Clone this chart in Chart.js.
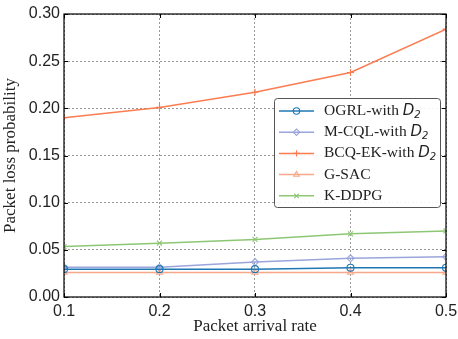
<!DOCTYPE html>
<html>
<head>
<meta charset="utf-8">
<script src="https://cdn.jsdelivr.net/npm/chart.js@4/dist/chart.umd.min.js"></script>
<style>
  html, body { margin: 0; padding: 0; background: #fff; }
  #wrap { width: 458px; height: 339px; }
</style>
</head>
<body>
<div id="wrap"><canvas id="chart" width="458" height="339"></canvas></div>
<script>
// Data
const arrivalRates = [0.1, 0.2, 0.3, 0.4, 0.5];
const ogrlLoss  = [0.0295, 0.0295, 0.0295, 0.031, 0.031];
const mcqlLoss  = [0.0316, 0.0316, 0.037, 0.041, 0.0426];
const bcqLoss   = [0.190, 0.201, 0.217, 0.238, 0.284];
const gsacLoss  = [0.026, 0.026, 0.026, 0.026, 0.026];
const kddpgLoss = [0.0535, 0.057, 0.061, 0.067, 0.070];
const seriesNames = ['OGRL-with D2', 'M-CQL-with D2', 'BCQ-EK-with D2', 'G-SAC', 'K-DDPG'];
const yTicks = [0, 0.05, 0.10, 0.15, 0.20, 0.25, 0.30];

function series(label, values, color, marker) {
    return {
        label: label,
        data: arrivalRates.map((x, i) => ({ x: x, y: values[i] })),
        borderColor: color,
        backgroundColor: 'rgba(255,255,255,0)',
        borderWidth: 1.5,
        pointStyle: marker,
        pointRadius: 3.5,
        pointBorderWidth: 1.1,
        pointBorderColor: color,
        pointBackgroundColor: 'rgba(255,255,255,0)',
        tension: 0
    };
}

const datasets = [
    series(seriesNames[0], ogrlLoss, '#1f77b4', 'circle'),
    series(seriesNames[1], mcqlLoss, '#9aa5dc', 'rectRot'),
    series(seriesNames[2], bcqLoss, '#fc7c50', 'cross'),
    series(seriesNames[3], gsacLoss, '#f8a88a', 'triangle'),
    series(seriesNames[4], kddpgLoss, '#8dc774', 'crossRot')
];

// frame + inward tick marks
const framePlugin = {
    id: 'frame',
    afterDraw(chart) {
        const ctx = chart.ctx, a = chart.chartArea;
        const xs = chart.scales.x, ys = chart.scales.y;
        ctx.save();
        ctx.strokeStyle = '#000';
        ctx.lineWidth = 1.2;
        ctx.strokeRect(a.left, a.top, a.right - a.left, a.bottom - a.top);
        ctx.lineWidth = 1;
        ctx.beginPath();
        arrivalRates.forEach(v => {
            const px = Math.round(xs.getPixelForValue(v)) + 0.5;
            ctx.moveTo(px, a.bottom); ctx.lineTo(px, a.bottom - 4);
            ctx.moveTo(px, a.top); ctx.lineTo(px, a.top + 4);
        });
        yTicks.forEach(v => {
            const py = Math.round(ys.getPixelForValue(v)) + 0.5;
            ctx.moveTo(a.left, py); ctx.lineTo(a.left + 4, py);
            ctx.moveTo(a.right, py); ctx.lineTo(a.right - 4, py);
        });
        ctx.stroke();
        ctx.restore();
    }
};

// legend box inside the plot, italic D with subscript 2
const legendPlugin = {
    id: 'boxLegend',
    afterDraw(chart) {
        const ctx = chart.ctx;
        const x0 = 274, y0 = 98, w = 166, h = 109;
        ctx.save();
        ctx.fillStyle = 'rgba(255,255,255,0.9)';
        ctx.strokeStyle = '#555';
        ctx.lineWidth = 1;
        ctx.beginPath();
        if (ctx.roundRect) ctx.roundRect(x0 + 0.5, y0 + 0.5, w, h, 3);
        else ctx.rect(x0 + 0.5, y0 + 0.5, w, h);
        ctx.fill();
        ctx.stroke();
        chart.data.datasets.forEach((ds, i) => {
            const cy = y0 + 13 + i * 21.2;
            ctx.strokeStyle = ds.borderColor;
            ctx.lineWidth = 1.5;
            ctx.beginPath();
            ctx.moveTo(x0 + 5, cy); ctx.lineTo(x0 + 40, cy);
            ctx.stroke();
            ctx.lineWidth = 1.1;
            ctx.fillStyle = 'rgba(255,255,255,0)';
            Chart.helpers.drawPoint(ctx, { pointStyle: ds.pointStyle, rotation: 0, radius: 3.2, borderWidth: 1.1 }, x0 + 22.5, cy);
            ctx.fillStyle = '#222';
            ctx.font = '15.5px "Liberation Serif", "Times New Roman", serif';
            ctx.textBaseline = 'middle';
            const tx = x0 + 50;
            if (ds.label.endsWith(' D2')) {
                const base = ds.label.slice(0, -2);
                ctx.fillText(base, tx, cy);
                let bx = tx + ctx.measureText(base).width;
                ctx.font = 'italic 15px "DejaVu Sans", sans-serif';
                ctx.fillText('D', bx, cy);
                bx += ctx.measureText('D').width;
                ctx.font = 'italic 10px "DejaVu Sans", sans-serif';
                ctx.fillText('2', bx, cy + 4);
            } else {
                ctx.fillText(ds.label, tx, cy);
            }
        });
        ctx.restore();
    }
};

const gridStyle = {
    color: '#999',
    lineWidth: 1,
    drawTicks: false
};
const borderStyle = { display: false, dash: [2, 2] };

new Chart(document.getElementById('chart'), {
    type: 'line',
    data: { datasets: datasets },
    options: {
        responsive: false,
        animation: false,
        layout: { padding: { top: 14, right: 12, left: 0, bottom: 0 } },
        plugins: {
            legend: { display: false },
            tooltip: { enabled: false }
        },
        scales: {
            x: {
                type: 'linear',
                min: 0.1,
                max: 0.5,
                grid: gridStyle,
                border: borderStyle,
                afterBuildTicks: s => { s.ticks = arrivalRates.map(v => ({ value: v })); },
                afterFit: s => { s.height = 42; s.paddingLeft = 0; s.paddingRight = 0; },
                ticks: {
                    color: '#222',
                    padding: 5,
                    maxRotation: 0,
                    font: { family: '"Liberation Sans", Arial, sans-serif', size: 16 },
                    callback: v => v.toFixed(1)
                },
                title: {
                    display: true,
                    text: 'Packet arrival rate',
                    color: '#222',
                    padding: { top: 0, bottom: 2 },
                    font: { family: '"Liberation Serif", "Times New Roman", serif', size: 17 }
                }
            },
            y: {
                min: 0,
                max: 0.3,
                grid: gridStyle,
                border: borderStyle,
                afterBuildTicks: s => { s.ticks = yTicks.map(v => ({ value: v })); },
                afterFit: s => { s.width = 64; s.paddingTop = 0; s.paddingBottom = 0; },
                ticks: {
                    color: '#222',
                    padding: 4,
                    font: { family: '"Liberation Sans", Arial, sans-serif', size: 16 },
                    callback: v => v.toFixed(2)
                },
                title: {
                    display: true,
                    text: 'Packet loss probability',
                    color: '#222',
                    padding: { top: 0, bottom: 0 },
                    font: { family: '"Liberation Serif", "Times New Roman", serif', size: 17 }
                }
            }
        }
    },
    plugins: [framePlugin, legendPlugin]
});
</script>
</body>
</html>
